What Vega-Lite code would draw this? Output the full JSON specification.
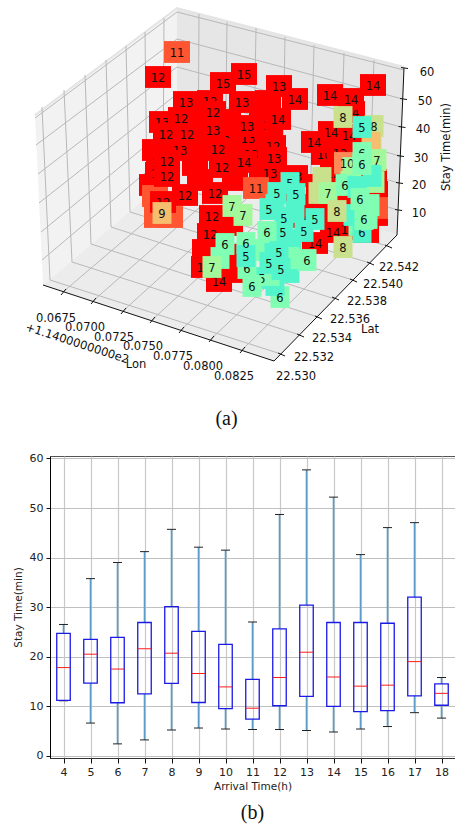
{"$schema":"https://vega.github.io/schema/vega-lite/v6.json","autosize":{"type":"pad"},"padding":{"left":12,"top":0,"right":0,"bottom":0},"bounds":"flush","spacing":11,"background":"white","config":{"font":"DejaVu Sans","view":{"stroke":null}},
"datasets":{
"pts":[
{"sx":155,"sy":150,"hour":12,"b":0},{"sx":152,"sy":185,"hour":12,"b":0},{"sx":200,"sy":150,"hour":12,"b":0},{"sx":200,"sy":180,"hour":12,"b":0},{"sx":235,"sy":180,"hour":12,"b":0},{"sx":195,"sy":120,"hour":12,"b":0},{"sx":228,"sy":120,"hour":12,"b":0},{"sx":268,"sy":101,"hour":13,"b":0},{"sx":262,"sy":115,"hour":12,"b":0},{"sx":262,"sy":140,"hour":12,"b":0},{"sx":240,"sy":145,"hour":12,"b":0},{"sx":195,"sy":165,"hour":12,"b":0},{"sx":262,"sy":175,"hour":12,"b":0},{"sx":290,"sy":190,"hour":12,"b":0},{"sx":230,"sy":225,"hour":12,"b":0},{"sx":205,"sy":250,"hour":12,"b":0},{"sx":235,"sy":255,"hour":12,"b":0},{"sx":232,"sy":272,"hour":12,"b":0},{"sx":315,"sy":205,"hour":12,"b":0},{"sx":345,"sy":200,"hour":12,"b":0},{"sx":375,"sy":215,"hour":12,"b":0},{"sx":366,"sy":232,"hour":12,"b":0},{"sx":375,"sy":192,"hour":12,"b":0},{"sx":375,"sy":208,"hour":11,"b":0},{"sx":374,"sy":180,"hour":12,"b":0},{"sx":330,"sy":215,"hour":12,"b":0},{"sx":155,"sy":196,"hour":11,"b":0},{"sx":157,"sy":217,"hour":11,"b":0},{"sx":170,"sy":217,"hour":11,"b":0},
{"sx":210,"sy":101,"hour":12,"label":"12","b":1},{"sx":162,"sy":122,"hour":13,"label":"13","b":1},{"sx":187,"sy":134,"hour":12,"label":"12","b":1},{"sx":180,"sy":150,"hour":13,"label":"13","b":1},{"sx":248,"sy":138,"hour":13,"label":"13","b":1},{"sx":251,"sy":154,"hour":13,"label":"13","b":1},{"sx":273,"sy":146,"hour":12,"label":"12","b":1},{"sx":159,"sy":162,"hour":12,"label":"12","b":1},{"sx":158,"sy":173,"hour":12,"label":"12","b":1},{"sx":223,"sy":140,"hour":12,"label":"12","b":1},{"sx":163,"sy":202,"hour":12,"label":"12","b":1},{"sx":295,"sy":176,"hour":13,"label":"13","b":1},{"sx":324,"sy":154,"hour":14,"label":"10","b":1},{"sx":349,"sy":135,"hour":14,"label":"14","b":1},{"sx":331,"sy":132,"hour":14,"label":"14","b":1},{"sx":352,"sy":112,"hour":14,"label":"14","b":1},{"sx":270,"sy":125,"hour":14,"label":"14","b":1},{"sx":204,"sy":267,"hour":14,"label":"14","b":1},{"sx":319,"sy":185,"hour":14,"label":"14","b":1},{"sx":348,"sy":229,"hour":14,"label":"14","b":1},{"sx":333,"sy":232,"hour":14,"label":"14","b":1},{"sx":303,"sy":217,"hour":14,"label":"14","b":1},{"sx":315,"sy":243,"hour":14,"label":"14","b":1},{"sx":270,"sy":173,"hour":13,"label":"13","b":1},
{"sx":177,"sy":52,"hour":11,"label":"11","b":2},{"sx":158,"sy":77,"hour":12,"label":"12","b":2},{"sx":223,"sy":83,"hour":15,"label":"15","b":2},{"sx":244,"sy":74,"hour":15,"label":"15","b":2},{"sx":186,"sy":102,"hour":13,"label":"13","b":2},{"sx":242,"sy":102,"hour":13,"label":"13","b":2},{"sx":213,"sy":112,"hour":12,"label":"12","b":2},{"sx":279,"sy":86,"hour":13,"label":"13","b":2},{"sx":295,"sy":99,"hour":14,"label":"14","b":2},{"sx":181,"sy":118,"hour":12,"label":"12","b":2},{"sx":166,"sy":134,"hour":12,"label":"12","b":2},{"sx":213,"sy":130,"hour":13,"label":"13","b":2},{"sx":247,"sy":126,"hour":13,"label":"13","b":2},{"sx":278,"sy":119,"hour":14,"label":"14","b":2},{"sx":218,"sy":149,"hour":12,"label":"12","b":2},{"sx":274,"sy":158,"hour":13,"label":"13","b":2},{"sx":244,"sy":162,"hour":14,"label":"14","b":2},{"sx":222,"sy":167,"hour":12,"label":"12","b":2},{"sx":167,"sy":161,"hour":12,"label":"12","b":2},{"sx":167,"sy":176,"hour":12,"label":"12","b":2},{"sx":185,"sy":195,"hour":12,"label":"12","b":2},{"sx":215,"sy":193,"hour":12,"label":"12","b":2},{"sx":212,"sy":216,"hour":12,"label":"12","b":2},{"sx":210,"sy":234,"hour":12,"label":"12","b":2},{"sx":219,"sy":281,"hour":14,"label":"14","b":2},{"sx":373,"sy":85,"hour":14,"label":"14","b":2},{"sx":330,"sy":95,"hour":14,"label":"14","b":2},{"sx":351,"sy":99,"hour":14,"label":"14","b":2},{"sx":314,"sy":142,"hour":14,"label":"14","b":2},{"sx":340,"sy":153,"hour":12,"label":"12","b":2},{"sx":333,"sy":173,"hour":12,"label":"12","b":2},{"sx":256,"sy":188,"hour":11,"label":"11","b":2},
{"sx":374,"sy":126,"hour":8,"label":"8","b":3},{"sx":372,"sy":145,"hour":8,"b":3},{"sx":371,"sy":143,"hour":9,"b":3},{"sx":377,"sy":160,"hour":7,"label":"7","b":3},{"sx":347,"sy":163,"hour":10,"label":"10","b":3},{"sx":352,"sy":168,"hour":7,"b":3},{"sx":362,"sy":153,"hour":6,"label":"6","b":3},{"sx":322,"sy":178,"hour":8,"b":3},{"sx":318,"sy":193,"hour":8,"b":3},{"sx":328,"sy":193,"hour":7,"label":"7","b":3},{"sx":350,"sy":182,"hour":7,"b":3},{"sx":345,"sy":185,"hour":6,"label":"6","b":3},{"sx":375,"sy":182,"hour":7,"b":3},{"sx":372,"sy":176,"hour":5,"b":3},{"sx":357,"sy":187,"hour":5,"b":3},{"sx":370,"sy":205,"hour":6,"b":3},{"sx":358,"sy":225,"hour":6,"b":3},{"sx":368,"sy":218,"hour":6,"b":3},{"sx":353,"sy":215,"hour":5,"b":3},{"sx":362,"sy":232,"hour":5,"label":"6","b":3},{"sx":290,"sy":183,"hour":5,"label":"5","b":3},{"sx":262,"sy":278,"hour":5,"label":"5","b":3},{"sx":247,"sy":268,"hour":6,"label":"6","b":3},{"sx":280,"sy":297,"hour":6,"label":"6","b":3},{"sx":220,"sy":258,"hour":6,"b":3},{"sx":232,"sy":206,"hour":7,"label":"7","b":3},{"sx":275,"sy":205,"hour":5,"b":3},{"sx":295,"sy":212,"hour":5,"b":3},{"sx":272,"sy":245,"hour":5,"b":3},{"sx":292,"sy":240,"hour":5,"b":3},{"sx":290,"sy":272,"hour":5,"b":3},{"sx":275,"sy":285,"hour":5,"b":3},{"sx":255,"sy":250,"hour":6,"b":3},{"sx":290,"sy":258,"hour":6,"b":3},{"sx":270,"sy":275,"hour":6,"b":3},
{"sx":362,"sy":127,"hour":5,"label":"5","b":4},{"sx":343,"sy":117,"hour":8,"label":"8","b":4},{"sx":362,"sy":164,"hour":6,"label":"6","b":4},{"sx":360,"sy":199,"hour":6,"label":"6","b":4},{"sx":364,"sy":219,"hour":6,"label":"6","b":4},{"sx":337,"sy":211,"hour":8,"label":"8","b":4},{"sx":343,"sy":247,"hour":8,"label":"8","b":4},{"sx":243,"sy":215,"hour":7,"label":"7","b":4},{"sx":225,"sy":244,"hour":6,"label":"6","b":4},{"sx":246,"sy":243,"hour":6,"label":"6","b":4},{"sx":246,"sy":256,"hour":5,"label":"5","b":4},{"sx":252,"sy":286,"hour":6,"label":"6","b":4},{"sx":212,"sy":267,"hour":7,"label":"7","b":4},{"sx":277,"sy":193,"hour":5,"label":"5","b":4},{"sx":296,"sy":194,"hour":5,"label":"5","b":4},{"sx":269,"sy":209,"hour":5,"label":"5","b":4},{"sx":284,"sy":218,"hour":5,"label":"5","b":4},{"sx":315,"sy":219,"hour":5,"label":"5","b":4},{"sx":304,"sy":231,"hour":5,"label":"5","b":4},{"sx":283,"sy":232,"hour":5,"label":"5","b":4},{"sx":267,"sy":232,"hour":6,"label":"6","b":4},{"sx":279,"sy":252,"hour":5,"label":"5","b":4},{"sx":269,"sy":263,"hour":5,"label":"5","b":4},{"sx":281,"sy":269,"hour":5,"label":"5","b":4},{"sx":307,"sy":260,"hour":6,"label":"6","b":4},{"sx":162,"sy":213,"hour":9,"label":"9","b":4}
],
"grid":[
{"g":"a0","i":0,"sx":281,"sy":354},{"g":"a0","i":1,"sx":50,"sy":280},{"g":"a0","i":2,"sx":42,"sy":107},
{"g":"a1","i":0,"sx":300,"sy":335},{"g":"a1","i":1,"sx":72,"sy":262},{"g":"a1","i":2,"sx":64,"sy":90},
{"g":"a2","i":0,"sx":318,"sy":317},{"g":"a2","i":1,"sx":91,"sy":244},{"g":"a2","i":2,"sx":85,"sy":75},
{"g":"a3","i":0,"sx":335,"sy":299},{"g":"a3","i":1,"sx":111,"sy":227},{"g":"a3","i":2,"sx":106,"sy":60},
{"g":"a4","i":0,"sx":353,"sy":280},{"g":"a4","i":1,"sx":130,"sy":212},{"g":"a4","i":2,"sx":126,"sy":46},
{"g":"a5","i":0,"sx":370,"sy":263},{"g":"a5","i":1,"sx":147,"sy":197},{"g":"a5","i":2,"sx":145,"sy":32},
{"g":"a6","i":0,"sx":388,"sy":246},{"g":"a6","i":1,"sx":163,"sy":184},{"g":"a6","i":2,"sx":164,"sy":18},
{"g":"o0","i":0,"sx":63,"sy":292},{"g":"o0","i":1,"sx":198,"sy":177},{"g":"o0","i":2,"sx":199,"sy":14},
{"g":"o1","i":0,"sx":93,"sy":301},{"g":"o1","i":1,"sx":225,"sy":185},{"g":"o1","i":2,"sx":227,"sy":22},
{"g":"o2","i":0,"sx":123,"sy":311},{"g":"o2","i":1,"sx":253,"sy":193},{"g":"o2","i":2,"sx":256,"sy":28},
{"g":"o3","i":0,"sx":152,"sy":320},{"g":"o3","i":1,"sx":282,"sy":201},{"g":"o3","i":2,"sx":285,"sy":37},
{"g":"o4","i":0,"sx":181,"sy":330},{"g":"o4","i":1,"sx":310,"sy":210},{"g":"o4","i":2,"sx":314,"sy":45},
{"g":"o5","i":0,"sx":211,"sy":339},{"g":"o5","i":1,"sx":339,"sy":218},{"g":"o5","i":2,"sx":344,"sy":53},
{"g":"o6","i":0,"sx":242,"sy":350},{"g":"o6","i":1,"sx":368,"sy":226},{"g":"o6","i":2,"sx":374,"sy":60},
{"g":"z6","i":0,"sx":35,"sy":118},{"g":"z6","i":1,"sx":177,"sy":12},{"g":"z6","i":2,"sx":404,"sy":70},
{"g":"z5","i":0,"sx":36,"sy":145},{"g":"z5","i":1,"sx":177,"sy":39},{"g":"z5","i":2,"sx":402.7,"sy":99},
{"g":"z4","i":0,"sx":38,"sy":174},{"g":"z4","i":1,"sx":177,"sy":67},{"g":"z4","i":2,"sx":401.3,"sy":127},
{"g":"z3","i":0,"sx":39,"sy":203},{"g":"z3","i":1,"sx":177,"sy":94},{"g":"z3","i":2,"sx":400,"sy":156},
{"g":"z2","i":0,"sx":41,"sy":232},{"g":"z2","i":1,"sx":177,"sy":120},{"g":"z2","i":2,"sx":399,"sy":183},
{"g":"z1","i":0,"sx":42,"sy":260},{"g":"z1","i":1,"sx":177,"sy":146},{"g":"z1","i":2,"sx":398,"sy":210}
],
"edge":[
{"g":"e","i":0,"sx":35,"sy":115},{"g":"e","i":1,"sx":177,"sy":8},{"g":"e","i":2,"sx":404,"sy":67}
],
"axes":[
{"g":"x","i":0,"sx":43,"sy":285},{"g":"x","i":1,"sx":274,"sy":361},
{"g":"y","i":0,"sx":274,"sy":361},{"g":"y","i":1,"sx":397,"sy":235},
{"g":"z","i":0,"sx":397,"sy":235},{"g":"z","i":1,"sx":404,"sy":68},
{"g":"t1","i":0,"sx":66,"sy":289},{"g":"t1","i":1,"sx":61,"sy":295},{"g":"t2","i":0,"sx":96,"sy":298},{"g":"t2","i":1,"sx":91,"sy":304},{"g":"t3","i":0,"sx":126,"sy":308},{"g":"t3","i":1,"sx":121,"sy":314},{"g":"t4","i":0,"sx":155,"sy":317},{"g":"t4","i":1,"sx":150,"sy":323},{"g":"t5","i":0,"sx":184,"sy":327},{"g":"t5","i":1,"sx":179,"sy":333},{"g":"t6","i":0,"sx":214,"sy":336},{"g":"t6","i":1,"sx":209,"sy":342},{"g":"t7","i":0,"sx":245,"sy":347},{"g":"t7","i":1,"sx":240,"sy":353},
{"g":"u1","i":0,"sx":278,"sy":353},{"g":"u1","i":1,"sx":285,"sy":356},{"g":"u2","i":0,"sx":297,"sy":334},{"g":"u2","i":1,"sx":304,"sy":337},{"g":"u3","i":0,"sx":315,"sy":316},{"g":"u3","i":1,"sx":322,"sy":319},{"g":"u4","i":0,"sx":332,"sy":297},{"g":"u4","i":1,"sx":339,"sy":300},{"g":"u5","i":0,"sx":350,"sy":279},{"g":"u5","i":1,"sx":357,"sy":282},{"g":"u6","i":0,"sx":367,"sy":262},{"g":"u6","i":1,"sx":374,"sy":265},{"g":"u7","i":0,"sx":385,"sy":245},{"g":"u7","i":1,"sx":392,"sy":248},
{"g":"v6","i":0,"sx":401,"sy":67.5},{"g":"v6","i":1,"sx":408,"sy":68.5},{"g":"v5","i":0,"sx":400,"sy":98.5},{"g":"v5","i":1,"sx":407,"sy":99.5},{"g":"v4","i":0,"sx":398.5,"sy":126.5},{"g":"v4","i":1,"sx":405.5,"sy":127.5},{"g":"v3","i":0,"sx":397,"sy":155.5},{"g":"v3","i":1,"sx":404,"sy":156.5},{"g":"v2","i":0,"sx":396,"sy":182.5},{"g":"v2","i":1,"sx":403,"sy":183.5},{"g":"v1","i":0,"sx":395,"sy":209.5},{"g":"v1","i":1,"sx":402,"sy":210.5}
],
"labels3d":[
{"sx":56,"sy":317,"t":"0.0675"},{"sx":85,"sy":326,"t":"0.0700"},{"sx":114,"sy":336,"t":"0.0725"},{"sx":143,"sy":345,"t":"0.0750"},{"sx":173,"sy":355,"t":"0.0775"},{"sx":203,"sy":365,"t":"0.0800"},{"sx":234,"sy":375,"t":"0.0825"},
{"sx":296,"sy":375,"t":"22.530"},{"sx":314,"sy":356,"t":"22.532"},{"sx":332,"sy":337,"t":"22.534"},{"sx":350,"sy":318,"t":"22.536"},{"sx":367,"sy":300,"t":"22.538"},{"sx":383,"sy":283,"t":"22.540"},{"sx":399,"sy":266,"t":"22.542"},
{"sx":427,"sy":71,"t":"60"},{"sx":425,"sy":100,"t":"50"},{"sx":423,"sy":128,"t":"40"},{"sx":421,"sy":157,"t":"30"},{"sx":419,"sy":184,"t":"20"},{"sx":419,"sy":212,"t":"10"},
{"sx":136,"sy":363,"t":"Lon"},{"sx":370,"sy":328,"t":"Lat"}
],
"box":[
{"h":4,"lo":11.1,"q1":11.2,"med":17.8,"q3":24.7,"hi":26.5},{"h":5,"lo":6.6,"q1":14.65,"med":20.5,"q3":23.5,"hi":35.75},{"h":6,"lo":2.4,"q1":10.7,"med":17.5,"q3":23.9,"hi":39.0},{"h":7,"lo":3.2,"q1":12.5,"med":21.6,"q3":26.9,"hi":41.2},{"h":8,"lo":5.2,"q1":14.6,"med":20.7,"q3":30.1,"hi":45.7},{"h":9,"lo":5.6,"q1":10.75,"med":16.6,"q3":25.1,"hi":42.1},{"h":10,"lo":5.4,"q1":9.5,"med":13.9,"q3":22.5,"hi":41.5},{"h":11,"lo":5.3,"q1":7.4,"med":9.6,"q3":15.4,"hi":27.0},{"h":12,"lo":5.3,"q1":10.1,"med":15.8,"q3":25.6,"hi":48.7},{"h":13,"lo":5.1,"q1":12.0,"med":20.9,"q3":30.4,"hi":57.7},{"h":14,"lo":4.8,"q1":9.95,"med":15.9,"q3":26.9,"hi":52.2},{"h":15,"lo":5.4,"q1":8.9,"med":14.05,"q3":26.9,"hi":40.6},{"h":16,"lo":5.9,"q1":9.1,"med":14.25,"q3":26.75,"hi":46.05},{"h":17,"lo":8.7,"q1":12.1,"med":19.0,"q3":32.0,"hi":47.05},{"h":18,"lo":7.6,"q1":10.2,"med":12.6,"q3":14.5,"hi":15.8}
]
},
"vconcat":[
{"width":405,"height":445,
"encoding":{"x":{"field":"sx","type":"quantitative","scale":{"domain":[50,455],"nice":false,"zero":false},"axis":null},"y":{"field":"sy","type":"quantitative","scale":{"domain":[445,0],"nice":false,"zero":false},"axis":null}},
"layer":[
{"data":{"values":[{"sx":35,"sy":115,"sb":115},{"sx":43,"sy":109,"sb":285},{"sx":177,"sy":8,"sb":171}]},"mark":{"type":"area","color":"#f2f2f2"},"encoding":{"y2":{"field":"sb"}}},
{"data":{"values":[{"sx":177,"sy":8,"sb":171},{"sx":397,"sy":66,"sb":235},{"sx":404,"sy":68,"sb":68}]},"mark":{"type":"area","color":"#e6e6e6"},"encoding":{"y2":{"field":"sb"}}},
{"data":{"values":[{"sx":43,"sy":285,"sb":285},{"sx":177,"sy":171,"sb":329},{"sx":274,"sy":199,"sb":361},{"sx":397,"sy":235,"sb":235}]},"mark":{"type":"area","color":"#ececec"},"encoding":{"y2":{"field":"sb"}}},
{"data":{"name":"edge"},"mark":{"type":"line","color":"#e4e4e4","strokeWidth":2},"encoding":{"detail":{"field":"g"},"order":{"field":"i"}}},
{"data":{"name":"grid"},"mark":{"type":"line","color":"#b8b8b8","strokeWidth":1},"encoding":{"detail":{"field":"g"},"order":{"field":"i"}}},
{"data":{"name":"axes"},"mark":{"type":"line","color":"#111111","strokeWidth":1},"encoding":{"detail":{"field":"g"},"order":{"field":"i"}}},
{"data":{"name":"pts"},"transform":[{"filter":"datum.b<=1"}],"mark":{"type":"point","filled":true,"opacity":1,"size":676},"encoding":{"shape":{"field":"hour","type":"nominal","legend":null,"scale":{"domain":[5,6,7,8,9,10,11,12,13,14,15],"range":["M-.73,-.84H.73V.84H-.73Z","M-.73,-.84H.73V.84H-.73Z","M-.73,-.84H.73V.84H-.73Z","M-.73,-.84H.73V.84H-.73Z","M-.73,-.84H.73V.84H-.73Z","M-1,-.84H1V.84H-1Z","M-1,-.84H1V.84H-1Z","M-1,-.84H1V.84H-1Z","M-1,-.84H1V.84H-1Z","M-1,-.84H1V.84H-1Z","M-1,-.84H1V.84H-1Z"]}},"color":{"field":"hour","type":"nominal","legend":null,"scale":{"domain":[5,6,7,8,9,10,11,12,13,14,15],"range":["#52f5cb","#80ffb4","#a4f89c","#c9e08c","#f5bd6e","#ff8a58","#ff5530","#ff0000","#ff0000","#ff0000","#ff0000"]}}}},
{"data":{"name":"pts"},"transform":[{"filter":"datum.b==1"}],"mark":{"type":"text","fontSize":11.5,"dy":1.5,"color":"#111111"},"encoding":{"text":{"field":"label"}}},
{"data":{"name":"pts"},"transform":[{"filter":"datum.b==2"}],"mark":{"type":"point","filled":true,"opacity":1,"size":676},"encoding":{"shape":{"field":"hour","type":"nominal","legend":null},"color":{"field":"hour","type":"nominal","legend":null}}},
{"data":{"name":"pts"},"transform":[{"filter":"datum.b==2"}],"mark":{"type":"text","fontSize":11.5,"dy":1.5,"color":"#111111"},"encoding":{"text":{"field":"label"}}},
{"data":{"name":"pts"},"transform":[{"filter":"datum.b==3"}],"mark":{"type":"point","filled":true,"opacity":1,"size":676},"encoding":{"shape":{"field":"hour","type":"nominal","legend":null},"color":{"field":"hour","type":"nominal","legend":null}}},
{"data":{"name":"pts"},"transform":[{"filter":"datum.b==3 && datum.label"}],"mark":{"type":"text","fontSize":11.5,"dy":1.5,"color":"#111111"},"encoding":{"text":{"field":"label"}}},
{"data":{"name":"pts"},"transform":[{"filter":"datum.b==4"}],"mark":{"type":"point","filled":true,"opacity":1,"size":676},"encoding":{"shape":{"field":"hour","type":"nominal","legend":null},"color":{"field":"hour","type":"nominal","legend":null}}},
{"data":{"name":"pts"},"transform":[{"filter":"datum.b==4"}],"mark":{"type":"text","fontSize":11.5,"dy":1.5,"color":"#111111"},"encoding":{"text":{"field":"label"}}},
{"data":{"name":"labels3d"},"mark":{"type":"text","fontSize":11.5,"dy":1.5,"color":"#111111"},"encoding":{"text":{"field":"t"}}},
{"data":{"values":[{"sx":77,"sy":344,"t":"+1.1400000000e2"}]},"mark":{"type":"text","fontSize":11.5,"color":"#111111","angle":18},"encoding":{"text":{"field":"t"}}},
{"data":{"values":[{"sx":447,"sy":147,"t":"Stay Time(min)"}]},"mark":{"type":"text","fontSize":11.5,"color":"#111111","angle":270},"encoding":{"text":{"field":"t"}}},
{"data":{"values":[{"sx":226.5,"sy":419,"t":"(a)"}]},"mark":{"type":"text","fontSize":20,"font":"Liberation Serif","color":"#111111"},"encoding":{"text":{"field":"t"}}}
]},
{"width":405,"height":302,"view":{"stroke":"#555555"},"data":{"name":"box"},
"encoding":{"x":{"field":"h","type":"quantitative","title":"Arrival Time(h)","scale":{"domain":[3.5,18.5],"nice":false,"zero":false,"padding":0},"axis":{"values":[4,5,6,7,8,9,10,11,12,13,14,15,16,17,18],"format":"d","grid":true,"gridColor":"#c8c8c8","gridWidth":1.2,"gridOpacity":1,"domainColor":"#333333","tickColor":"#111111","tickSize":5,"labelFontSize":11,"labelColor":"#222222","labelPadding":3,"titleFontSize":10.5,"titleFontWeight":"normal","titleColor":"#222222","titlePadding":4}},"y":{"type":"quantitative","title":"Stay Time(min)","scale":{"domain":[-0.45,60.5],"nice":false,"zero":false},"axis":{"values":[0,10,20,30,40,50,60],"grid":true,"gridColor":"#c0c0c0","gridWidth":1.2,"gridOpacity":1,"domainColor":"#000000","tickColor":"#111111","tickSize":4,"labelFontSize":11,"labelColor":"#222222","labelPadding":3,"titleFontSize":10.5,"titleFontWeight":"normal","titleColor":"#222222","titlePadding":6}}},
"layer":[
{"mark":{"type":"rule","color":"#5b9bc8","strokeWidth":1.6},"encoding":{"y":{"field":"q3","type":"quantitative"},"y2":{"field":"hi"}}},
{"mark":{"type":"rule","color":"#5b9bc8","strokeWidth":1.6},"encoding":{"y":{"field":"lo","type":"quantitative"},"y2":{"field":"q1"}}},
{"mark":{"type":"tick","orient":"horizontal","color":"#222222","size":9,"thickness":1,"opacity":1},"encoding":{"y":{"field":"hi","type":"quantitative"}}},
{"mark":{"type":"tick","orient":"horizontal","color":"#222222","size":9,"thickness":1,"opacity":1},"encoding":{"y":{"field":"lo","type":"quantitative"}}},
{"mark":{"type":"bar","width":13.5,"fillOpacity":0,"stroke":"#1a1ae6","strokeWidth":1.3},"encoding":{"y":{"field":"q1","type":"quantitative"},"y2":{"field":"q3"}}},
{"mark":{"type":"tick","orient":"horizontal","color":"#ff1a1a","size":13.5,"thickness":1,"opacity":1},"encoding":{"y":{"field":"med","type":"quantitative"}}},
{"data":{"values":[{"h":11,"v":-11.5,"t":"(b)"}]},"mark":{"type":"text","fontSize":20,"font":"Liberation Serif","color":"#111111"},"encoding":{"y":{"field":"v","type":"quantitative"},"text":{"field":"t"}}}
]}
]}
